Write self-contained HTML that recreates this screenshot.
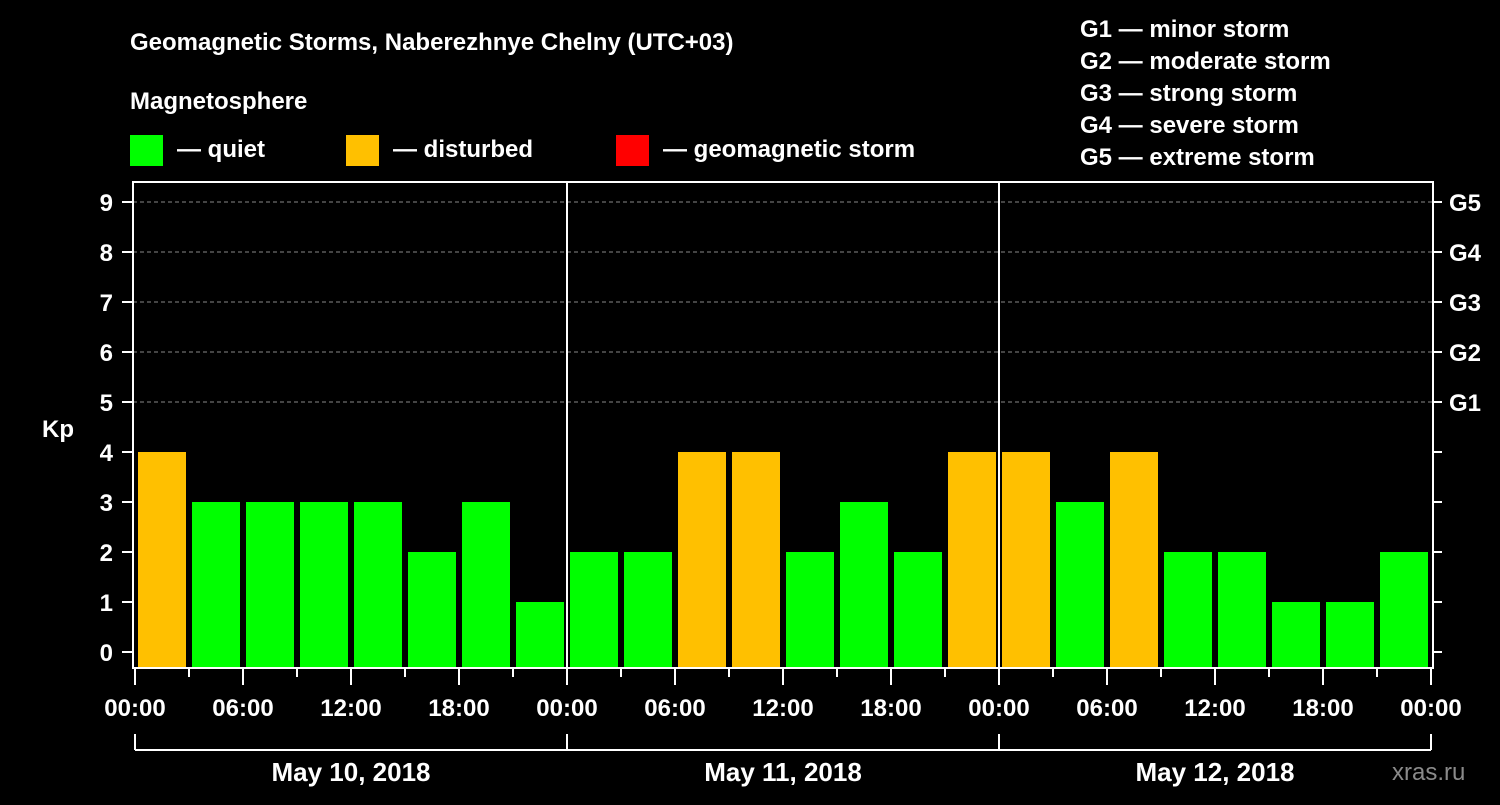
<!DOCTYPE html>
<html><head><meta charset="utf-8"><style>
body{margin:0;background:#000;}
svg text{font-family:"Liberation Sans",Arial,sans-serif;font-weight:bold;fill:#fff;}
</style></head><body>
<svg id="chart" width="1500" height="800" xmlns="http://www.w3.org/2000/svg">
<rect width="1500" height="800" fill="#000"/>
<text x="130" y="50" font-size="24">Geomagnetic Storms, Naberezhnye Chelny (UTC+03)</text>
<text x="130" y="109" font-size="24">Magnetosphere</text>
<rect x="130" y="135" width="33" height="31" fill="#00ff00"/>
<text x="177" y="157" font-size="24">— quiet</text>
<rect x="346" y="135" width="33" height="31" fill="#ffc000"/>
<text x="393" y="157" font-size="24">— disturbed</text>
<rect x="616" y="135" width="33" height="31" fill="#ff0000"/>
<text x="663" y="157" font-size="24">— geomagnetic storm</text>
<g font-size="24">
<text x="1080" y="37">G1 — minor storm</text>
<text x="1080" y="69">G2 — moderate storm</text>
<text x="1080" y="101">G3 — strong storm</text>
<text x="1080" y="133">G4 — severe storm</text>
<text x="1080" y="165">G5 — extreme storm</text>
</g>
<g id="grid"></g>
<g id="bars"></g>
<g id="axes"></g>
<text x="42" y="437" font-size="24">Kp</text>
<text x="1392" y="780" font-size="24" fill="#888" style="fill:#8a8a8a;font-weight:normal">xras.ru</text>
</svg>
<script>
const kpValues=[4,3,3,3,3,2,3,1, 2,2,4,4,2,3,2,4, 4,3,4,2,2,1,1,2];
const dayLabels=["May 10, 2018","May 11, 2018","May 12, 2018"];
const timeLabels=["00:00","06:00","12:00","18:00"];
const gLabels=["G1","G2","G3","G4","G5"];
const NS="http://www.w3.org/2000/svg";
const x0=135, slot=54, y0=652, unit=50;
const X=i=>x0+i*slot;
const Y=v=>y0-v*unit;
function mk(tag,attrs,parent){const e=document.createElementNS(NS,tag);for(const k in attrs)e.setAttribute(k,attrs[k]);parent.appendChild(e);return e;}
const grid=document.getElementById('grid'),bars=document.getElementById('bars'),axes=document.getElementById('axes');
for(let v=5;v<=9;v++){const l=mk('line',{x1:133,x2:1433,y1:Y(v),y2:Y(v),stroke:'#888','stroke-dasharray':'4,3','stroke-width':1},grid);

}
kpValues.forEach((v,i)=>{const c=v>=5?'#ff0000':(v>=4?'#ffc000':'#00ff00');
const r=mk('rect',{x:X(i)+3,y:Y(v),width:48,height:668-Y(v),fill:c},bars);

});
mk('rect',{x:133,y:182,width:1300,height:486,fill:'none',stroke:'#fff','stroke-width':2},axes);
for(let d=1;d<3;d++)mk('line',{x1:X(d*8),x2:X(d*8),y1:182,y2:668,stroke:'#fff','stroke-width':2},axes);
for(let v=0;v<=9;v++){mk('line',{x1:122,x2:133,y1:Y(v),y2:Y(v),stroke:'#fff','stroke-width':2},axes);
mk('line',{x1:1433,x2:1442,y1:Y(v),y2:Y(v),stroke:'#fff','stroke-width':2},axes);
const t=mk('text',{x:113,y:Y(v)+9,'font-size':24,'text-anchor':'end'},axes);t.textContent=v;

}
gLabels.forEach((g,i)=>{const t=mk('text',{x:1449,y:Y(i+5)+9,'font-size':24},axes);t.textContent=g;

});
for(let i=0;i<=24;i++){const major=i%2==0;
mk('line',{x1:X(i),x2:X(i),y1:669,y2:major?685:677,stroke:'#fff','stroke-width':2},axes);
if(major){const t=mk('text',{x:X(i),y:716,'font-size':24,'text-anchor':'middle'},axes);t.textContent=timeLabels[(i/2)%4];

}}
mk('line',{x1:X(0),x2:X(24),y1:750,y2:750,stroke:'#fff','stroke-width':2},axes);
for(let d=0;d<=3;d++)mk('line',{x1:X(d*8),x2:X(d*8),y1:734,y2:750,stroke:'#fff','stroke-width':2},axes);
dayLabels.forEach((s,d)=>{const t=mk('text',{x:(X(d*8)+X(d*8+8))/2,y:781,'font-size':26,'text-anchor':'middle'},axes);t.textContent=s;

});
</script>
</body></html>
